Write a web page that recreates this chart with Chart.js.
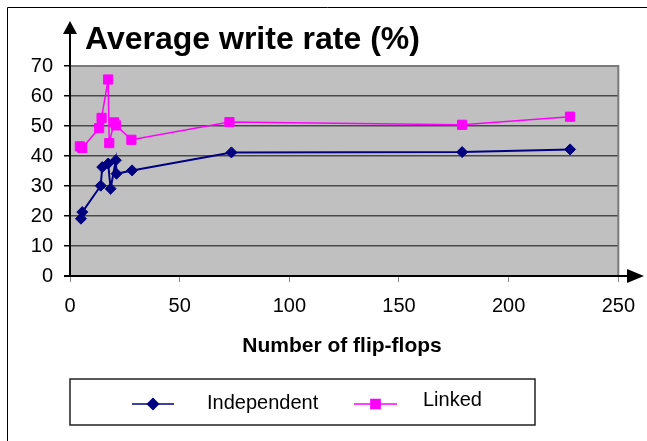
<!DOCTYPE html>
<html lang="en">
<head>
    <meta charset="UTF-8">
    <title>Average write rate</title>
    <style>
        body { margin: 0; background: #fff; }
        canvas { display: block; }
    </style>
</head>
<body>
    <canvas id="grafico" width="647" height="441"></canvas>

    <script src="https://cdn.jsdelivr.net/npm/chart.js"></script>
    <script>
        // values
        const flipFlopsIndependent = [5, 5.6, 14, 14.7, 17.4, 18.5, 20.9, 21.2, 28.3, 73.6, 178.8, 228]
        const rateIndependent = [19.1, 21.3, 30.1, 36.3, 37.5, 29.1, 38.6, 34.1, 35.2, 41.2, 41.3, 42.2]

        const flipFlopsLinked = [4.5, 5.6, 13.3, 14.4, 17.4, 17.9, 20.1, 21, 28, 72.7, 178.8, 228]
        const rateLinked = [43.2, 42.7, 49.3, 52.7, 65.5, 44.3, 51.2, 50.2, 45.4, 51.3, 50.4, 53.1]

        const xTicks = [0, 50, 100, 150, 200, 250]
        const yTicks = [0, 10, 20, 30, 40, 50, 60, 70]

        const azul = '#000080'
        const rosa = '#FF00FF'
        const fonte = '"Liberation Sans", Arial, sans-serif'

        const toPoints = (xs, ys) => xs.map((x, i) => ({ x: x, y: ys[i] }))

        // fundo cinza, moldura, setas, titulo e legenda
        const extras = {
            id: 'extras',
            beforeDraw(chart) {
                const c = chart.ctx
                const a = chart.chartArea
                c.save()
                c.fillStyle = '#C0C0C0'
                c.fillRect(a.left, a.top, a.right - a.left, a.bottom - a.top)
                c.restore()
            },
            afterDatasetsDraw(chart) {
                const c = chart.ctx
                const a = chart.chartArea
                c.save()

                // borda cinza do plot (topo e direita)
                c.strokeStyle = '#7a7a7a'
                c.lineWidth = 2
                c.beginPath()
                c.moveTo(a.left, a.top)
                c.lineTo(a.right, a.top)
                c.lineTo(a.right, a.bottom)
                c.stroke()

                // eixos com setas
                c.strokeStyle = '#000'
                c.fillStyle = '#000'
                c.lineWidth = 2
                c.beginPath()
                c.moveTo(a.left, a.bottom)
                c.lineTo(a.left, 30)
                c.moveTo(a.left - 6, a.bottom)
                c.lineTo(628, a.bottom)
                c.stroke()

                c.beginPath()
                c.moveTo(a.left, 21)
                c.lineTo(a.left - 7, 34)
                c.lineTo(a.left + 7, 34)
                c.closePath()
                c.fill()

                c.beginPath()
                c.moveTo(644, a.bottom)
                c.lineTo(627, a.bottom - 7)
                c.lineTo(627, a.bottom + 7)
                c.closePath()
                c.fill()

                // moldura externa
                c.strokeStyle = '#000'
                c.lineWidth = 1
                c.beginPath()
                c.moveTo(7.5, 441)
                c.lineTo(7.5, 7.5)
                c.lineTo(647, 7.5)
                c.stroke()

                // titulo
                c.font = 'bold 32px ' + fonte
                c.textBaseline = 'alphabetic'
                c.textAlign = 'left'
                c.fillText('Average write rate (%)', 85, 49)

                // titulo do eixo x
                c.font = 'bold 21px ' + fonte
                c.textAlign = 'center'
                c.fillText('Number of flip-flops', 342, 352)

                // legenda
                c.strokeStyle = '#222'
                c.lineWidth = 1.5
                c.strokeRect(70, 379, 465, 46)

                const itens = [
                    { ds: chart.data.datasets[0], x1: 132, x2: 174, tx: 207, y: 404, ty: 403 },
                    { ds: chart.data.datasets[1], x1: 354, x2: 397, tx: 423, y: 404, ty: 400 }
                ]
                c.font = '20px ' + fonte
                c.textAlign = 'left'
                c.textBaseline = 'middle'
                itens.forEach((it) => {
                    c.strokeStyle = it.ds.borderColor
                    c.lineWidth = 1.5
                    c.beginPath()
                    c.moveTo(it.x1, it.y)
                    c.lineTo(it.x2, it.y)
                    c.stroke()
                    c.fillStyle = it.ds.pointBackgroundColor
                    c.strokeStyle = it.ds.pointBorderColor
                    Chart.helpers.drawPoint(c, {
                        pointStyle: it.ds.pointStyle,
                        radius: it.ds.pointRadius,
                        rotation: 0,
                        borderWidth: 1
                    }, (it.x1 + it.x2) / 2, it.y)
                    c.fillStyle = '#000'
                    c.fillText(it.ds.label, it.tx, it.ty)
                })

                c.restore()
            }
        }

        new Chart(document.getElementById('grafico'), {
            type: 'line',
            data: {
                datasets: [{
                    label: 'Independent',
                    data: toPoints(flipFlopsIndependent, rateIndependent),
                    borderColor: azul,
                    borderWidth: 2,
                    pointStyle: 'rectRot',
                    pointRadius: 5.5,
                    pointBackgroundColor: azul,
                    pointBorderColor: azul,
                    pointBorderWidth: 1,
                    tension: 0
                }, {
                    label: 'Linked',
                    data: toPoints(flipFlopsLinked, rateLinked),
                    borderColor: rosa,
                    borderWidth: 1.5,
                    pointStyle: 'rect',
                    pointRadius: 6.5,
                    pointBackgroundColor: rosa,
                    pointBorderColor: rosa,
                    pointBorderWidth: 1,
                    tension: 0
                }]
            },
            options: {
                responsive: false,
                animation: false,
                devicePixelRatio: 1,
                layout: { padding: { left: 0, top: 66, right: 27, bottom: 0 } },
                plugins: {
                    legend: { display: false },
                    tooltip: { enabled: false }
                },
                scales: {
                    x: {
                        type: 'linear',
                        min: 0,
                        max: 250,
                        afterBuildTicks: (scale) => { scale.ticks = xTicks.map((v) => ({ value: v })) },
                        afterFit: (scale) => { scale.height = 441 - 276 },
                        ticks: {
                            color: '#000',
                            font: { family: fonte, size: 20 },
                            padding: 12,
                            maxRotation: 0
                        },
                        grid: {
                            drawOnChartArea: false,
                            drawTicks: true,
                            tickLength: 6,
                            color: '#888'
                        },
                        border: { display: false }
                    },
                    y: {
                        min: 0,
                        max: 70,
                        afterBuildTicks: (scale) => { scale.ticks = yTicks.map((v) => ({ value: v })) },
                        afterFit: (scale) => { scale.width = 70 },
                        ticks: {
                            color: '#000',
                            font: { family: fonte, size: 20 },
                            padding: 11
                        },
                        grid: {
                            color: '#4a4a4a',
                            lineWidth: 1.5,
                            tickLength: 6,
                            tickColor: '#000'
                        },
                        border: { display: false }
                    }
                }
            },
            plugins: [extras]
        });
    </script>
</body>
</html>
